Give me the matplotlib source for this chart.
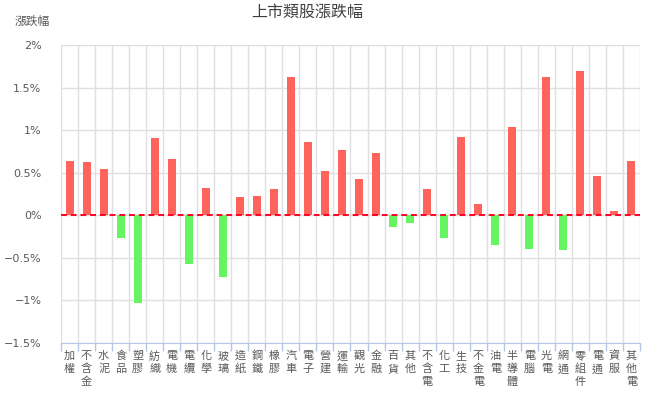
import matplotlib
matplotlib.use("Agg")
import matplotlib.pyplot as plt
import matplotlib.transforms as mtransforms
import numpy as np

plt.rcParams['font.family'] = ['Noto Sans CJK TC', 'DejaVu Sans']

categories = ["加權", "不含金", "水泥", "食品", "塑膠", "紡織", "電機", "電纜", "化學", "玻璃",
              "造紙", "鋼鐵", "橡膠", "汽車", "電子", "營建", "運輸", "觀光", "金融", "百貨",
              "其他", "不含電", "化工", "生技", "不金電", "油電", "半導體", "電腦", "光電", "網通",
              "零組件", "電通", "資服", "其他電"]
values = [0.64, 0.63, 0.54, -0.27, -1.03, 0.91, 0.66, -0.57, 0.32, -0.72,
          0.22, 0.23, 0.31, 1.63, 0.86, 0.52, 0.77, 0.43, 0.73, -0.14,
          -0.09, 0.31, -0.27, 0.92, 0.13, -0.35, 1.04, -0.40, 1.63, -0.41,
          1.69, 0.46, 0.05, 0.64]
yticks = [2, 1.5, 1, 0.5, 0, -0.5, -1, -1.5]
ytick_labels = ["2%", "1.5%", "1%", "0.5%", "0%", "\u22120.5%", "\u22121%", "\u22121.5%"]

RED = "#FF635B"
GREEN = "#66F562"

W, H = 658, 397
fig = plt.figure(figsize=(W/100, H/100), dpi=100)
ax = fig.add_axes([61/W, 1-343/H, (640-61)/W, (343-45)/H])

n = len(categories)
x = np.arange(n)
colors = [RED if v >= 0 else GREEN for v in values]
ax.bar(x, values, width=0.47, color=colors, zorder=3)
ax.axhline(0, color="#FF0022", linestyle=(0, (3, 2)), linewidth=1.4, zorder=4)

ax.set_xlim(-0.5, n - 0.5)
ax.set_ylim(-1.5, 2)
ax.set_yticks(yticks)
ax.set_yticklabels(ytick_labels, fontsize=8, color="#595959", family=['DejaVu Sans'])

for b in np.arange(-0.5, n, 1):
    ax.axvline(b, color="#E0E0E0", linewidth=1, zorder=1)
for t in yticks:
    ax.axhline(t, color="#E0E0E0", linewidth=1, zorder=1)

ax.set_xticks(np.arange(-0.5, n, 1))
ax.set_xticklabels([])
ax.tick_params(axis='x', length=6, color="#B4C7E7", width=1)
ax.tick_params(axis='y', length=0, pad=14)

# vertical stacked category labels, one character per row
trans = mtransforms.blended_transform_factory(ax.transData, fig.transFigure)
row_y = [356, 369, 382]
for i, c in enumerate(categories):
    for j, ch in enumerate(c):
        ax.text(i, 1 - row_y[j]/H, ch, transform=trans, ha="center", va="center",
                fontsize=8, color="#595959")

for s in ["top", "right", "left"]:
    ax.spines[s].set_visible(False)
ax.spines["bottom"].set_color("#B4C7E7")

fig.text(307/W, 1-12/H, "上市類股漲跌幅", ha="center", va="center", fontsize=11.5, color="#404040")
fig.text(15/W, 1-21/H, "漲跌幅", ha="left", va="center", fontsize=8.5, color="#595959")

fig.savefig("out.png", dpi=100)
